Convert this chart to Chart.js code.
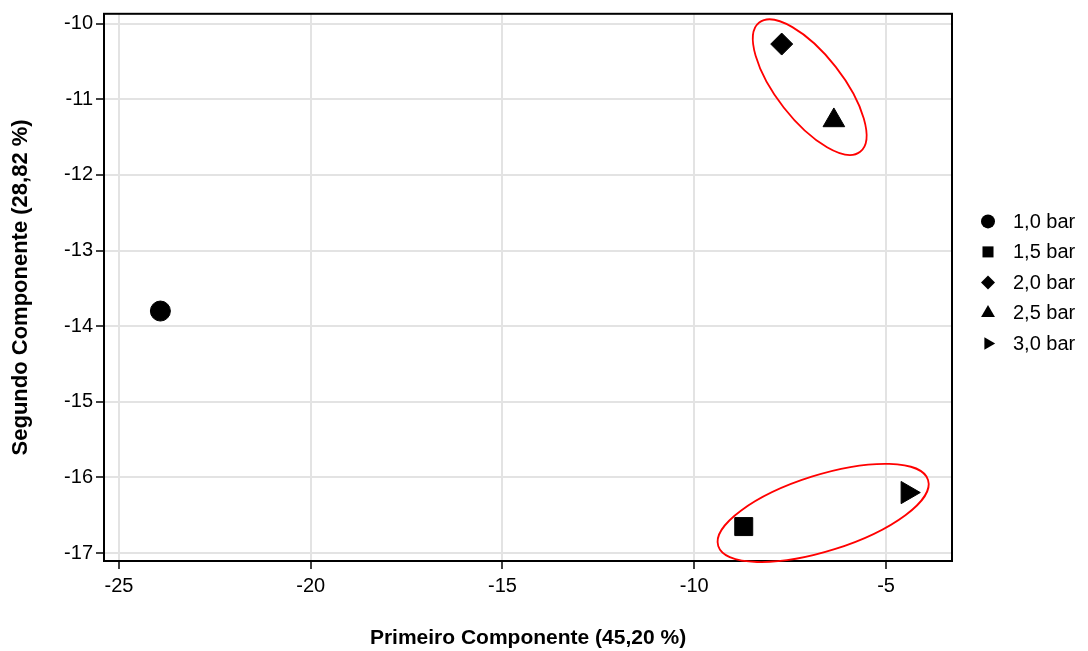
<!DOCTYPE html>
<html>
<head>
<meta charset="utf-8">
<script src="https://cdn.jsdelivr.net/npm/chart.js@4/dist/chart.umd.min.js"></script>
<style>
html, body { margin: 0; padding: 0; background: #fff; }
#wrap { width: 1088px; height: 651px; }
</style>
</head>
<body>
<div id="wrap"><canvas id="grafico"></canvas></div>
<script>
// dados
var rotulos = ['1,0 bar', '1,5 bar', '2,0 bar', '2,5 bar', '3,0 bar'];
var comp1 = [-23.92, -8.71, -7.72, -6.36, -4.44];
var comp2 = [-13.80, -16.65, -10.27, -11.28, -16.20];
var ticksX = [-25, -20, -15, -10, -5];
var ticksY = [-10, -11, -12, -13, -14, -15, -16, -17];
// centros dos grupos (elipses vermelhas)
var grupoX = [-6.99, -6.64];
var grupoY = [-10.84, -16.47];

var marcadores = ['circle', 'rect', 'rectRot', 'triangle', 'triangle'];
var rotacao = [0, 0, 0, 0, 90];
var raio = [10, 12.7, 11, 12.5, 12.8];
var raioLegenda = [7, 7.8, 7, 8, 7.2];
var elipses = [
  { a: 82, b: 33, ang: 52 },
  { a: 110, b: 38, ang: -17.5 }
];

var fonte = "'Liberation Sans', Arial, sans-serif";

var datasets = rotulos.map(function (r, i) {
  return {
    label: r,
    data: [{ x: comp1[i], y: comp2[i] }],
    pointStyle: marcadores[i],
    pointRotation: rotacao[i],
    pointRadius: raio[i],
    pointHoverRadius: raio[i],
    backgroundColor: '#000',
    borderColor: '#000',
    borderWidth: 1
  };
});

function fixarTicks(lista) {
  return function (scale) {
    scale.ticks = lista.map(function (v) { return { value: v }; });
  };
}

var extras = {
  id: 'extras',
  beforeDatasetsDraw: function (chart) {
    var ctx = chart.ctx, a = chart.chartArea;
    ctx.save();
    ctx.strokeStyle = '#000';
    ctx.lineWidth = 2;
    ctx.strokeRect(a.left, a.top, a.right - a.left, a.bottom - a.top);
    ctx.restore();
  },
  afterDatasetsDraw: function (chart) {
    var ctx = chart.ctx, a = chart.chartArea;
    var sx = chart.scales.x, sy = chart.scales.y;
    ctx.save();
    ctx.strokeStyle = '#ff0000';
    ctx.lineWidth = 1.8;
    grupoX.forEach(function (gx, i) {
      var e = elipses[i];
      ctx.beginPath();
      ctx.ellipse(sx.getPixelForValue(gx), sy.getPixelForValue(grupoY[i]), e.a, e.b, e.ang * Math.PI / 180, 0, 2 * Math.PI);
      ctx.stroke();
    });
    ctx.restore();

    // legenda
    ctx.save();
    var lx = a.right + 36;
    var ly = (a.top + a.bottom) / 2 - 5 - 2 * 30.5;
    ctx.fillStyle = '#000';
    ctx.strokeStyle = '#000';
    ctx.font = '20px ' + fonte;
    ctx.textBaseline = 'middle';
    rotulos.forEach(function (r, i) {
      var y = ly + i * 30.5;
      Chart.helpers.drawPoint(ctx, { pointStyle: marcadores[i], rotation: rotacao[i], radius: raioLegenda[i], borderWidth: 0 }, lx, y);
      ctx.fillStyle = '#000';
      ctx.fillText(r, lx + 25, y + 1);
    });
    ctx.restore();
  }
};

new Chart(document.getElementById('grafico'), {
  type: 'scatter',
  data: { datasets: datasets },
  options: {
    responsive: true,
    maintainAspectRatio: false,
    animation: false,
    layout: { padding: { top: 12, right: 136, bottom: 0, left: 0 } },
    plugins: {
      legend: { display: false },
      tooltip: { enabled: false }
    },
    scales: {
      x: {
        type: 'linear',
        min: -25.39,
        max: -3.28,
        afterBuildTicks: fixarTicks(ticksX),
        afterFit: function (s) { s.height = 90; s.paddingLeft = 0; s.paddingRight = 0; },
        grid: { color: '#e3e3e3', lineWidth: 2, tickColor: '#000', tickWidth: 1.5, tickLength: 8 },
        border: { color: '#000', width: 2 },
        ticks: { color: '#000', font: { family: fonte, size: 20 }, padding: 5 },
        title: { display: true, text: 'Primeiro Componente (45,20 %)', color: '#000',
                 font: { family: fonte, size: 21, weight: 'bold' }, padding: { top: 20, bottom: 0.5 } }
      },
      y: {
        type: 'linear',
        min: -17.105,
        max: -9.87,
        afterBuildTicks: fixarTicks(ticksY),
        afterFit: function (s) { s.width = 104; s.paddingTop = 0; s.paddingBottom = 0; },
        grid: { color: '#e3e3e3', lineWidth: 2, tickColor: '#000', tickWidth: 1.5, tickLength: 8 },
        border: { color: '#000', width: 2 },
        ticks: { color: '#000', font: { family: fonte, size: 20 }, padding: 3 },
        title: { display: true, text: 'Segundo Componente (28,82 %)', color: '#000',
                 font: { family: fonte, size: 22, weight: 'bold' }, padding: { top: 8, bottom: 20 } }
      }
    }
  },
  plugins: [extras]
});
</script>
</body>
</html>
